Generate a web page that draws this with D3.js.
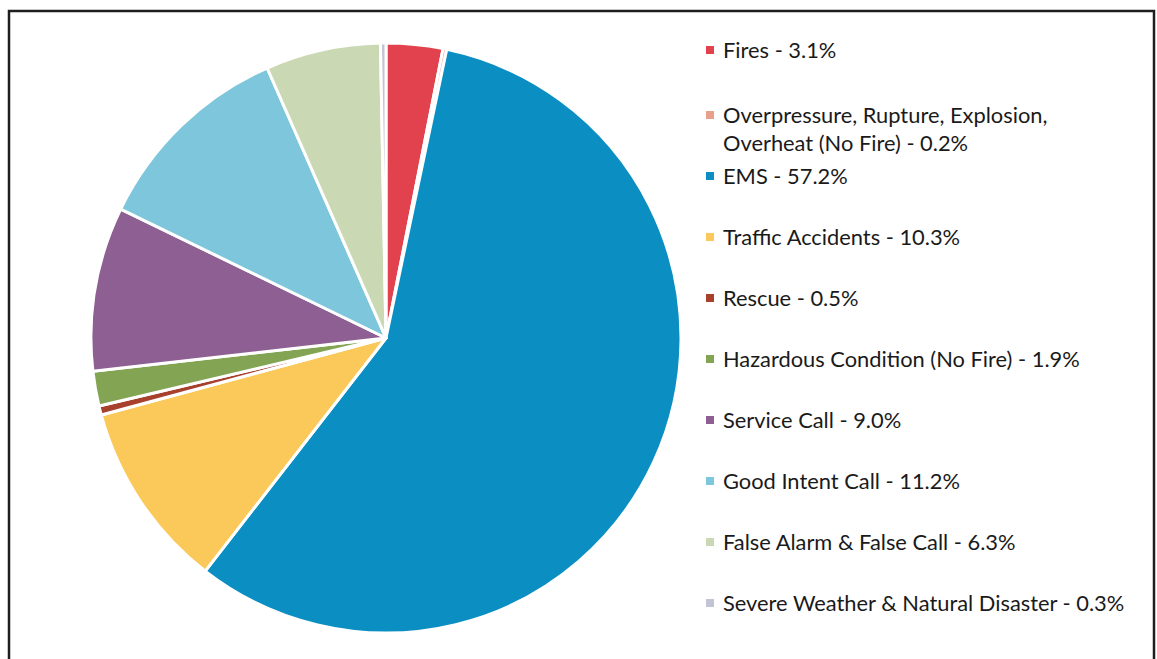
<!DOCTYPE html>
<html>
<head>
<meta charset="utf-8">
<script src="https://cdn.jsdelivr.net/npm/d3@7"></script>
<style>
  html, body { margin: 0; padding: 0; background: #fff; }
  svg { display: block; }
</style>
</head>
<body>
<svg id="chart" width="1157" height="659"></svg>
<script>
const categories = [
  "Fires",
  "Overpressure, Rupture, Explosion, Overheat (No Fire)",
  "EMS",
  "Traffic Accidents",
  "Rescue",
  "Hazardous Condition (No Fire)",
  "Service Call",
  "Good Intent Call",
  "False Alarm & False Call",
  "Severe Weather & Natural Disaster"
];
const values = [3.1, 0.2, 57.2, 10.3, 0.5, 1.9, 9.0, 11.2, 6.3, 0.3];
const legendLines = [
  ["Fires - 3.1%"],
  ["Overpressure, Rupture, Explosion,", "Overheat (No Fire) - 0.2%"],
  ["EMS - 57.2%"],
  ["Traffic Accidents - 10.3%"],
  ["Rescue - 0.5%"],
  ["Hazardous Condition (No Fire) - 1.9%"],
  ["Service Call - 9.0%"],
  ["Good Intent Call - 11.2%"],
  ["False Alarm & False Call - 6.3%"],
  ["Severe Weather & Natural Disaster - 0.3%"]
];
const colors = ["#e2424d", "#e8a08c", "#0b8ec2", "#fbc95a", "#a8402e",
                "#83a553", "#8e5f92", "#7dc6db", "#cad9b4", "#c3c3d6"];

const svg = d3.select("#chart");

// frame
svg.append("rect")
  .attr("x", 9).attr("y", 11).attr("width", 1145).attr("height", 700)
  .attr("fill", "none").attr("stroke", "#1e1e1e").attr("stroke-width", 2.5);

const cx = 386, cy = 338, r = 295;
const color = d3.scaleOrdinal().domain(categories).range(colors);

const pie = d3.pie().sort(null).value(d => d.v);
const arc = d3.arc().innerRadius(0).outerRadius(r);
const data = categories.map((c, i) => ({ c, v: values[i] }));

svg.append("g").attr("transform", `translate(${cx},${cy})`)
  .selectAll("path").data(pie(data)).join("path")
  .attr("d", arc)
  .attr("fill", d => color(d.data.c))
  .attr("stroke", "#fff").attr("stroke-width", 3).attr("stroke-linejoin", "round");

// legend
const lg = svg.append("g");
const font = "Lato, 'Open Sans', sans-serif";
// measure to fit target width for the longest single line
const probe = lg.append("text").attr("font-family", font).attr("font-size", 20)
  .text(legendLines[5][0]);
const w = probe.node().getComputedTextLength();
probe.remove();
const fs = 20 * 357 / w;

const rowY = i => 50 + 61 * i + (i > 0 ? 4 : 0);
categories.forEach((c, i) => {
  const y = rowY(i);
  lg.append("rect")
    .attr("x", 706).attr("y", y - 4).attr("width", 8).attr("height", 8)
    .attr("fill", color(c));
  legendLines[i].forEach((line, j) => {
    lg.append("text")
      .attr("x", 723).attr("y", y + j * 28)
      .attr("dy", "0.35em")
      .attr("font-family", font).attr("font-size", fs)
      .attr("fill", "#1a1a1a")
      .text(line);
  });
});
</script>
</body>
</html>
